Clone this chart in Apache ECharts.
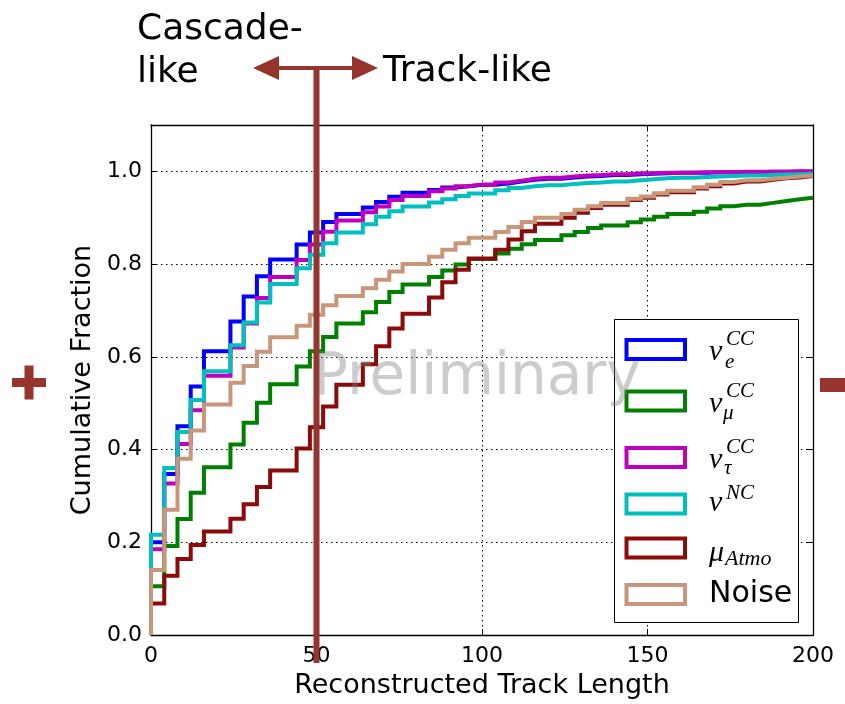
<!DOCTYPE html>
<html>
<head>
<meta charset="utf-8">
<script src="https://cdn.jsdelivr.net/npm/echarts@6/dist/echarts.min.js"></script>
<style>
  html, body { margin: 0; padding: 0; background: #ffffff; }
  #chart { width: 845px; height: 704px; }
</style>
</head>
<body>
<div id="chart"></div>
<script>
// Left edges of the 4-unit track-length bins (last entry closes the final bin)
const binEdges = [0, 4, 8, 12, 16, 20, 24, 28, 32, 36, 40, 44, 48, 52, 56, 60, 64, 68, 72, 76,
  80, 84, 88, 92, 96, 100, 104, 108, 112, 116, 120, 124, 128, 132, 136, 140, 144, 148, 152, 156,
  160, 164, 168, 172, 176, 180, 184, 188, 192, 196, 200];

// Cumulative fraction per bin for each event class
const nuE = [0.200, 0.347, 0.450, 0.536, 0.612, 0.612, 0.676, 0.730, 0.774, 0.810,
  0.810, 0.842, 0.868, 0.891, 0.908, 0.908, 0.922, 0.934, 0.945, 0.954,
  0.954, 0.960, 0.965, 0.968, 0.971, 0.971, 0.974, 0.978, 0.982, 0.984,
  0.984, 0.987, 0.989, 0.990, 0.992, 0.992, 0.994, 0.995, 0.996, 0.997,
  0.997, 0.997, 0.998, 0.998, 0.998, 0.998, 0.999, 0.999, 0.999, 0.999];
const nuMu = [0.105, 0.192, 0.250, 0.307, 0.362, 0.362, 0.411, 0.458, 0.501, 0.541,
  0.541, 0.579, 0.612, 0.643, 0.672, 0.672, 0.696, 0.718, 0.740, 0.756,
  0.756, 0.772, 0.786, 0.799, 0.811, 0.811, 0.823, 0.833, 0.843, 0.852,
  0.852, 0.862, 0.869, 0.878, 0.883, 0.883, 0.890, 0.896, 0.902, 0.908,
  0.908, 0.913, 0.920, 0.925, 0.928, 0.928, 0.932, 0.936, 0.940, 0.943];
const nuTau = [0.185, 0.327, 0.412, 0.485, 0.559, 0.559, 0.620, 0.672, 0.727, 0.772,
  0.772, 0.809, 0.842, 0.870, 0.894, 0.894, 0.912, 0.924, 0.938, 0.947,
  0.947, 0.957, 0.963, 0.968, 0.971, 0.971, 0.976, 0.980, 0.984, 0.986,
  0.986, 0.989, 0.991, 0.992, 0.994, 0.994, 0.996, 0.996, 0.997, 0.997,
  0.997, 0.998, 0.998, 0.998, 0.999, 0.999, 0.999, 0.999, 1.000, 1.000];
const nuNC = [0.216, 0.360, 0.438, 0.507, 0.569, 0.569, 0.625, 0.674, 0.717, 0.757,
  0.757, 0.791, 0.820, 0.845, 0.868, 0.868, 0.886, 0.902, 0.914, 0.924,
  0.924, 0.933, 0.940, 0.947, 0.952, 0.952, 0.959, 0.964, 0.968, 0.970,
  0.970, 0.973, 0.975, 0.976, 0.978, 0.978, 0.981, 0.983, 0.985, 0.986,
  0.986, 0.988, 0.989, 0.990, 0.991, 0.991, 0.992, 0.993, 0.994, 0.995];
const muAtmo = [0.068, 0.128, 0.164, 0.194, 0.223, 0.223, 0.251, 0.282, 0.319, 0.355,
  0.355, 0.402, 0.448, 0.493, 0.540, 0.540, 0.584, 0.623, 0.661, 0.693,
  0.693, 0.728, 0.761, 0.788, 0.812, 0.812, 0.831, 0.853, 0.871, 0.887,
  0.887, 0.900, 0.911, 0.921, 0.928, 0.928, 0.938, 0.943, 0.950, 0.955,
  0.955, 0.963, 0.968, 0.974, 0.978, 0.978, 0.982, 0.985, 0.987, 0.990];
const noise = [0.140, 0.270, 0.380, 0.441, 0.497, 0.497, 0.544, 0.580, 0.611, 0.642,
  0.642, 0.667, 0.691, 0.711, 0.731, 0.731, 0.748, 0.766, 0.784, 0.800,
  0.800, 0.816, 0.831, 0.845, 0.857, 0.857, 0.869, 0.880, 0.891, 0.900,
  0.900, 0.908, 0.917, 0.925, 0.932, 0.932, 0.941, 0.946, 0.953, 0.958,
  0.958, 0.966, 0.971, 0.977, 0.981, 0.981, 0.984, 0.986, 0.989, 0.991];

const xTicks = [0, 50, 100, 150, 200];
const yTicks = [0.0, 0.2, 0.4, 0.6, 0.8, 1.0];
const cutValue = 50;

const classes = [
  { name: 'nu_e CC',   values: nuE,    color: '#0000ff' },
  { name: 'nu_mu CC',  values: nuMu,   color: '#008000' },
  { name: 'nu_tau CC', values: nuTau,  color: '#bf00bf' },
  { name: 'nu NC',     values: nuNC,   color: '#00bfbf' },
  { name: 'mu Atmo',   values: muAtmo, color: '#8b0a0a' },
  { name: 'Noise',     values: noise,  color: '#c8977a' }
];

// Step outline: rise from zero at the first edge, then one level per bin
function stepData(values) {
  const pts = [[binEdges[0], 0]];
  values.forEach((v, i) => pts.push([binEdges[i], v]));
  pts.push([binEdges[binEdges.length - 1], values[values.length - 1]]);
  return pts;
}

const FONT = 'DejaVu Sans';
const MARK = '#96352d';
const dotted = { type: [1.5, 3.5], color: '#000', width: 1 };

const chart = echarts.init(document.getElementById('chart'), null, { renderer: 'canvas' });

const baseX = {
  type: 'value', min: xTicks[0], max: xTicks[xTicks.length - 1], interval: 50,
  axisLine: { show: true, onZero: false, lineStyle: { color: '#000', width: 1.3 } },
  axisTick: { show: true, inside: true, length: 6, lineStyle: { color: '#000', width: 1 } }
};
const baseY = {
  type: 'value', min: 0, max: 1.1, interval: 0.2,
  axisLine: { show: true, onZero: false, lineStyle: { color: '#000', width: 1.3 } },
  axisTick: { show: true, inside: true, length: 6, lineStyle: { color: '#000', width: 1 } }
};

chart.setOption({
  animation: false,
  backgroundColor: '#ffffff',
  grid: { left: 151, right: 32, top: 125, bottom: 67, containLabel: false },
  xAxis: [
    Object.assign({}, baseX, {
      position: 'bottom',
      axisLabel: { show: true, color: '#000', fontFamily: FONT, fontSize: 22, margin: 10 },
      splitLine: { show: true, lineStyle: dotted },
      name: 'Reconstructed Track Length', nameLocation: 'middle', nameGap: 37,
      nameTextStyle: { color: '#000', fontFamily: FONT, fontSize: 27 }
    }),
    Object.assign({}, baseX, {
      position: 'top', axisLabel: { show: false }, splitLine: { show: false }
    })
  ],
  yAxis: [
    Object.assign({}, baseY, {
      position: 'left',
      axisLabel: {
        show: true, color: '#000', fontFamily: FONT, fontSize: 22, margin: 9,
        showMaxLabel: false,
        formatter: v => (yTicks.some(t => Math.abs(t - v) < 1e-6) ? v.toFixed(1) : '')
      },
      splitLine: { show: true, lineStyle: dotted },
      name: 'Cumulative Fraction', nameLocation: 'middle', nameGap: 52,
      nameTextStyle: { color: '#000', fontFamily: FONT, fontSize: 27 }
    }),
    Object.assign({}, baseY, {
      position: 'right', axisLabel: { show: false }, splitLine: { show: false }
    })
  ],
  series: classes.map(c => ({
    name: c.name,
    type: 'line',
    step: 'end',
    xAxisIndex: 0, yAxisIndex: 0,
    showSymbol: false, symbol: 'none',
    clip: true,
    lineStyle: { color: c.color, width: 4, cap: 'butt', join: 'miter' },
    emphasis: { disabled: true },
    data: stepData(c.values)
  }))
});

// ---- annotations and legend ----
const cutX = chart.convertToPixel({ xAxisIndex: 0 }, cutValue);
const axisBottom = chart.convertToPixel({ yAxisIndex: 0 }, 0);
const arrowY = 68;

function txt(text, x, y, size, opts) {
  opts = opts || {};
  return {
    type: 'text', z: opts.z || 100,
    style: {
      text: text, x: x, y: y,
      font: (opts.style || 'normal') + ' ' + size + 'px "' + (opts.family || FONT) + '"',
      fill: opts.fill || '#000',
      align: opts.align || 'left', verticalAlign: opts.valign || 'middle',
      textAlign: opts.align || 'left', textVerticalAlign: opts.valign || 'middle'
    }
  };
}

const MATH = 'Liberation Serif';
function mathItalic(text, x, y, size) {
  return txt(text, x, y, size, { style: 'italic', family: MATH });
}

const legendRows = [
  { cy: 349.5, color: classes[0].color },
  { cy: 401,   color: classes[1].color },
  { cy: 457.5, color: classes[2].color },
  { cy: 504,   color: classes[3].color },
  { cy: 548,   color: classes[4].color },
  { cy: 594.5, color: classes[5].color }
];

const graphics = [];

// legend frame
graphics.push({
  type: 'rect', z: 50,
  shape: { x: 614.5, y: 319.5, width: 184, height: 303 },
  style: { fill: '#ffffff', stroke: '#000', lineWidth: 1 }
});
legendRows.forEach(r => {
  graphics.push({
    type: 'rect', z: 51,
    shape: { x: 626.5, y: r.cy - 9.5, width: 58.5, height: 19 },
    style: { fill: '#ffffff', stroke: r.color, lineWidth: 4 }
  });
});
// legend labels
graphics.push(mathItalic('ν', 709, 352, 30), mathItalic('CC', 726, 339, 21), mathItalic('e', 725, 362, 21));
graphics.push(mathItalic('ν', 709, 404, 30), mathItalic('CC', 726, 391, 21), mathItalic('μ', 723, 413, 21));
graphics.push(mathItalic('ν', 709, 460, 30), mathItalic('CC', 726, 447, 21), mathItalic('τ', 724, 468, 21));
graphics.push(mathItalic('ν', 709, 503, 30), mathItalic('NC', 726, 493, 21));
graphics.push(mathItalic('μ', 709, 553, 30), mathItalic('Atmo', 725, 559, 22));
graphics.push(txt('Noise', 709, 594, 30));

// watermark
graphics.push(txt('Preliminary', 313, 379, 58, { fill: 'rgba(128,128,128,0.4)', z: 120 }));

// cut marker and direction arrow
graphics.push({
  type: 'rect', z: 110,
  shape: { x: cutX - 3, y: arrowY, width: 6, height: axisBottom + 28 - arrowY },
  style: { fill: MARK }
});
graphics.push({
  type: 'rect', z: 110,
  shape: { x: 272, y: arrowY - 2, width: 86, height: 4 },
  style: { fill: MARK }
});
graphics.push({
  type: 'polygon', z: 110,
  shape: { points: [[253, arrowY], [279, arrowY - 12], [279, arrowY + 12]] },
  style: { fill: MARK }
});
graphics.push({
  type: 'polygon', z: 110,
  shape: { points: [[378, arrowY], [352, arrowY - 12], [352, arrowY + 12]] },
  style: { fill: MARK }
});
graphics.push(txt('Cascade-', 137, 30, 36));
graphics.push(txt('like', 137, 73, 36));
graphics.push(txt('Track-like', 383, 72, 36));

// side markers
graphics.push({ type: 'rect', z: 110, shape: { x: 12, y: 378, width: 34, height: 9 }, style: { fill: MARK } });
graphics.push({ type: 'rect', z: 110, shape: { x: 24.5, y: 365.5, width: 9, height: 34 }, style: { fill: MARK } });
graphics.push({ type: 'rect', z: 110, shape: { x: 820, y: 378, width: 30, height: 14 }, style: { fill: MARK } });

chart.setOption({ graphic: graphics });
</script>
</body>
</html>
